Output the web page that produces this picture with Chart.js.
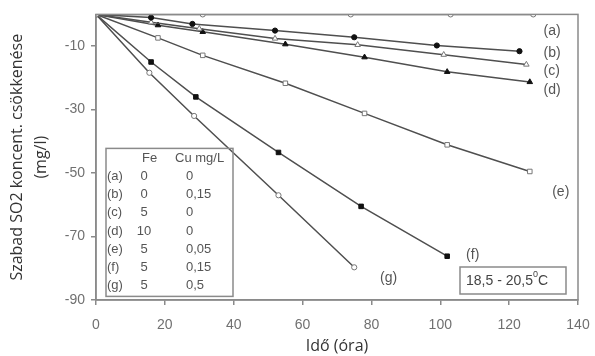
<!DOCTYPE html>
<html>
<head>
<meta charset="utf-8">
<script src="https://cdn.jsdelivr.net/npm/chart.js@4"></script>
<style>
  html, body { margin: 0; padding: 0; background: #fff; }
  #wrap { width: 595px; height: 356px; }
</style>
</head>
<body>
<div id="wrap"><canvas id="chart"></canvas></div>
<script>
// Values (time in hours, decrease in mg/l)
const xA = [0, 31, 74, 103, 127];
const yA = [0, 0, 0, 0, 0];
const xB = [0, 16, 28, 52, 75, 99, 123];
const yB = [0, -1, -3, -5.1, -7.2, -9.8, -11.6];
const xC = [0, 16, 30, 52, 76, 101, 125];
const yC = [0, -2.5, -4.5, -7.6, -9.6, -12.7, -15.8];
const xD = [0, 18, 31, 55, 78, 102, 126];
const yD = [0, -3.4, -5.5, -9.4, -13.5, -18.1, -21.3];
const xE = [0, 18, 31, 55, 78, 102, 126];
const yE = [0, -7.4, -12.9, -21.7, -31.2, -41.1, -49.5];
const xF = [0, 16, 29, 53, 77, 102];
const yF = [0, -15, -26, -43.5, -60.5, -76.2];
const xG = [0, 15.5, 28.5, 53, 75];
const yG = [0, -18.4, -32, -57, -79.7];

const seriesNames = ['(a)', '(b)', '(c)', '(d)', '(e)', '(f)', '(g)'];
// where each series name is written, in data units
const nameX = [130, 130, 130, 130, 132.5, 107.5, 82.5];
const nameY = [-5.3, -12.2, -17.9, -23.8, -56.1, -75.9, -83];

const xTicks = [0, 20, 40, 60, 80, 100, 120, 140];
const yTicks = [-90, -70, -50, -30, -10];

const legendFe = ['0', '0', '5', '10', '5', '5', '5'];
const legendCu = ['0', '0,15', '0', '0', '0,05', '0,15', '0,5'];

function pts(xs, ys) {
    return xs.map((x, i) => ({ x: x, y: ys[i] }));
}

function series(label, xs, ys, style, filled) {
    return {
        label: label,
        data: pts(xs, ys),
        borderColor: '#4f4f4f',
        borderWidth: 1.5,
        pointStyle: style,
        pointRadius: style === 'circle' ? 2.6 : 3.2,
        pointBorderWidth: 1,
        pointBorderColor: filled ? '#111' : '#777',
        pointBackgroundColor: filled ? '#111' : '#fff',
        tension: 0
    };
}

const tickFont = { family: 'Liberation Sans', size: 14 };

const annotations = {
    id: 'annotations',
    afterDraw(chart) {
        const ctx = chart.ctx;
        const xs = chart.scales.x, ys = chart.scales.y;
        const area = chart.chartArea;
        ctx.save();

        // frame around the plot
        ctx.strokeStyle = '#8a8a8a';
        ctx.lineWidth = 1.5;
        ctx.strokeRect(area.left, area.top, area.right - area.left, area.bottom - area.top);

        // series names
        ctx.fillStyle = '#555';
        ctx.font = '14px "Liberation Sans"';
        ctx.textBaseline = 'middle';
        ctx.textAlign = 'left';
        seriesNames.forEach((n, i) => {
            ctx.fillText(n, xs.getPixelForValue(nameX[i]), ys.getPixelForValue(nameY[i]));
        });

        // composition table
        const bx = area.left + 10, by = area.top + 134;
        ctx.strokeStyle = '#8a8a8a';
        ctx.lineWidth = 1.5;
        ctx.strokeRect(bx, by, 127, 148);
        ctx.fillStyle = '#555';
        ctx.font = '13px "Liberation Sans"';
        ctx.textAlign = 'left';
        ctx.fillText('Fe', bx + 36, by + 10);
        ctx.fillText('Cu mg/L', bx + 69, by + 10);
        seriesNames.forEach((n, i) => {
            const ty = by + 28 + i * 18.2;
            ctx.fillText(n, bx + 1, ty);
            ctx.textAlign = 'center';
            ctx.fillText(legendFe[i], bx + 38, ty);
            ctx.textAlign = 'left';
            ctx.fillText(legendCu[i], bx + 80, ty);
        });

        // temperature box
        const tx = 460, ty = 267;
        ctx.strokeRect(tx, ty, 106, 27);
        ctx.font = '14px "Liberation Sans"';
        ctx.fillStyle = '#444';
        const main = '18,5 - 20,5';
        let px = tx + 6;
        ctx.fillText(main, px, ty + 14);
        px += ctx.measureText(main).width;
        ctx.font = '9px "Liberation Sans"';
        ctx.fillText('0', px, ty + 8);
        px += ctx.measureText('0').width;
        ctx.font = '14px "Liberation Sans"';
        ctx.fillText('C', px, ty + 14);
        ctx.restore();
    }
};

new Chart(document.getElementById('chart'), {
    type: 'line',
    data: {
        datasets: [
            series('(a)', xA, yA, 'circle', false),
            series('(b)', xB, yB, 'circle', true),
            series('(c)', xC, yC, 'triangle', false),
            series('(d)', xD, yD, 'triangle', true),
            series('(e)', xE, yE, 'rect', false),
            series('(f)', xF, yF, 'rect', true),
            series('(g)', xG, yG, 'circle', false)
        ]
    },
    options: {
        responsive: true,
        maintainAspectRatio: false,
        animation: false,
        layout: { padding: { top: 13, right: 17, left: 0, bottom: 0 } },
        plugins: {
            legend: { display: false },
            tooltip: { enabled: false }
        },
        scales: {
            x: {
                type: 'linear',
                min: 0,
                max: 140,
                afterBuildTicks: s => { s.ticks = xTicks.map(v => ({ value: v })); },
                afterFit: s => { s.height = 56; s.paddingLeft = 0; s.paddingRight = 0; },
                grid: { drawOnChartArea: false, tickLength: 5, color: '#8a8a8a', lineWidth: 1.5 },
                border: { color: '#8a8a8a', width: 1.5 },
                ticks: { font: tickFont, color: '#707070', padding: 12, maxRotation: 0 },
                title: {
                    display: true,
                    text: 'Idő (óra)',
                    font: { family: 'Open Sans', size: 16 },
                    color: '#333',
                    padding: { top: 0, bottom: 0 }
                }
            },
            y: {
                type: 'linear',
                min: -90,
                max: 0,
                afterBuildTicks: s => { s.ticks = yTicks.map(v => ({ value: v })); },
                afterFit: s => { s.width = 96; },
                grid: { drawOnChartArea: false, tickLength: 5, color: '#8a8a8a', lineWidth: 1.5 },
                border: { color: '#8a8a8a', width: 1.5 },
                ticks: { font: tickFont, color: '#707070', padding: 6 },
                title: {
                    display: true,
                    text: ['Szabad SO2 koncent. csökkenése', '(mg/l)'],
                    font: { family: 'Open Sans', size: 16, lineHeight: 1.5 },
                    color: '#333',
                    padding: { top: 5, bottom: 0 }
                }
            }
        }
    },
    plugins: [annotations]
});
</script>
</body>
</html>
